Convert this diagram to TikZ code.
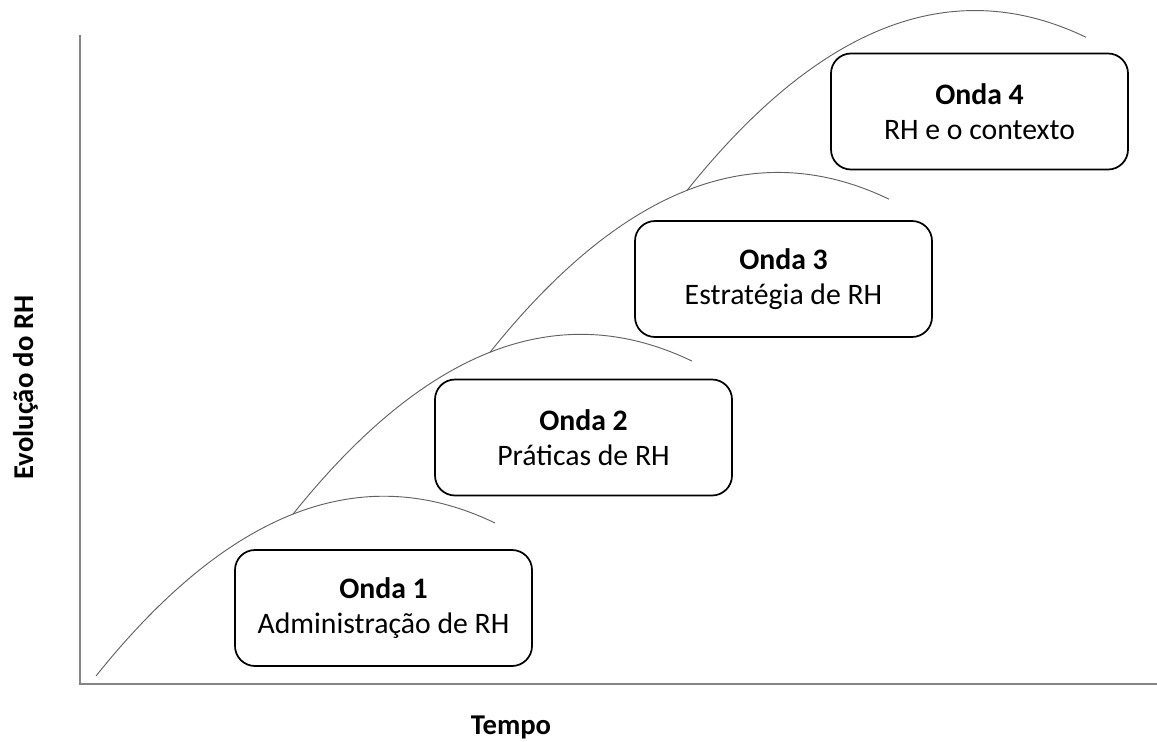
\documentclass[tikz,border=0pt]{standalone}
\usepackage{fontspec}
\setmainfont{Carlito}
\usetikzlibrary{calc}
\begin{document}
\begin{tikzpicture}[x=0.75pt,y=-0.75pt,
  axisline/.style={draw=black!48, line width=1.2pt, line join=miter},
  wave/.style={draw=black!62, line width=0.7pt},
  wavebox/.style={draw=black, line width=1.3pt, fill=white, rounded corners=15pt,
    minimum width=222.75pt, minimum height=87pt, inner sep=0pt, align=center,
    font=\fontsize{22.3}{26.5}\selectfont},
  axislabel/.style={font=\fontsize{21.5}{26}\selectfont\bfseries, inner sep=0pt}]
\useasboundingbox (0,0) rectangle (1157,742);

% axes
\coordinate (o) at (80,684);
\coordinate (ytop) at (80,35);
\coordinate (xend) at (1157,684);
\draw[axisline] (ytop) -- (o) -- (xend);

% four overlapping waves, each one starting on the previous one
\coordinate (a1) at (96,676);
\draw[wave] (a1) .. controls ($(a1)+(132.9,-166.1)$) and ($(a1)+(265.9,-217.1)$) .. ($(a1)+(399,-153)$) coordinate[pos=0.494] (a2);
\draw[wave] (a2) .. controls ($(a2)+(132.9,-166.1)$) and ($(a2)+(265.9,-217.1)$) .. ($(a2)+(399,-153)$) coordinate[pos=0.494] (a3);
\draw[wave] (a3) .. controls ($(a3)+(132.9,-166.1)$) and ($(a3)+(265.9,-217.1)$) .. ($(a3)+(399,-153)$) coordinate[pos=0.494] (a4);
\draw[wave] (a4) .. controls ($(a4)+(132.9,-166.1)$) and ($(a4)+(265.9,-217.1)$) .. ($(a4)+(399,-153)$);

% wave boxes
\node[wavebox] (w1) at (383.5,608) {\textbf{Onda 1}\\Administração de RH};
\node[wavebox] (w2) at (583.5,437.5) {\textbf{Onda 2}\\Práticas de RH};
\node[wavebox] (w3) at (783.5,279) {\textbf{Onda 3}\\Estratégia de RH};
\node[wavebox] (w4) at (979.5,111.5) {\textbf{Onda 4}\\RH e o contexto};

% axis labels
\node[axislabel, anchor=base] (xlab) at (511,734) {Tempo};
\node[axislabel, anchor=base, rotate=90] (ylab) at (33,387.5) {Evolução do RH};
\end{tikzpicture}
\end{document}
